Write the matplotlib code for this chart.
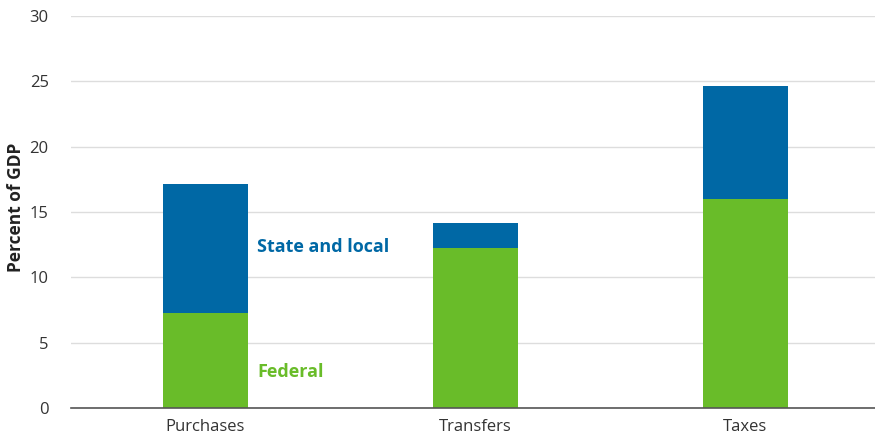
import matplotlib
matplotlib.use("Agg")
import matplotlib.pyplot as plt
import numpy as np

categories = ["Purchases", "Transfers", "Taxes"]
federal = [7.27, 12.24, 16.0]
state_local = [9.85, 1.92, 8.67]
yticks = [0, 5, 10, 15, 20, 25, 30]

plt.rcParams['font.family'] = ['Open Sans', 'DejaVu Sans']

blue = "#0068A5"
green = "#69BC29"

fig = plt.figure(figsize=(8.75, 4.42), dpi=100)
ax = fig.add_axes([0.0811, 0.0769, 0.9189, 0.8869])
x = np.arange(len(categories))
w = 0.315
ax.bar(x, federal, width=w, color=green, zorder=3)
ax.bar(x, state_local, width=w, bottom=federal, color=blue, zorder=3)

ax.set_xlim(-0.498, 2.48)
ax.set_ylim(0, 30)
ax.set_yticks(yticks)
ax.set_xticks(x)
ax.set_xticklabels(categories)
ax.tick_params(axis='both', length=0, labelsize=12, labelcolor="#333333")
ax.tick_params(axis='y', pad=16)
ax.tick_params(axis='x', pad=8)
ax.grid(axis='y', color="#dddddd", linewidth=1, zorder=0)
for s in ["top", "right", "left"]:
    ax.spines[s].set_visible(False)
ax.spines["bottom"].set_color("#555555")
ax.spines["bottom"].set_linewidth(1.2)
ax.spines["bottom"].set_zorder(4)

fig.text(16 / 875, 1 - 207 / 442, "Percent of GDP", rotation=90, ha="center", va="center",
         fontsize=12.5, fontweight="bold", color="#222222")

ax.text(0 + w/2 + 0.035, 12.3, "State and local", color=blue, fontsize=13, fontweight="bold", va="center", ha="left")
ax.text(0 + w/2 + 0.035, 2.75, "Federal", color=green, fontsize=13, fontweight="bold", va="center", ha="left")

fig.savefig("out.png", dpi=100)
